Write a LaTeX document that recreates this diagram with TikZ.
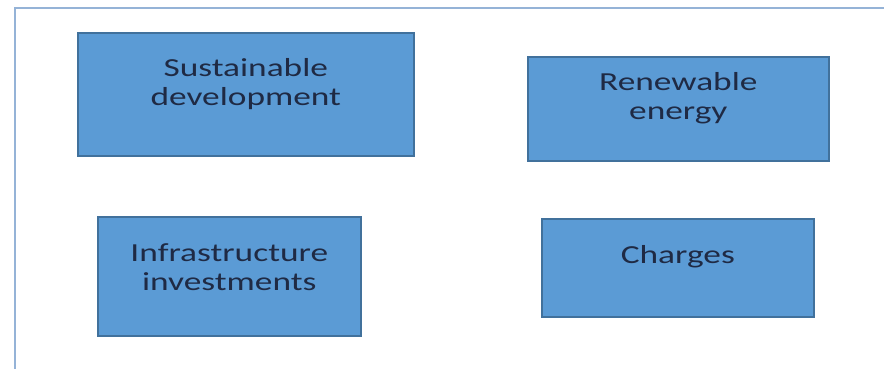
\documentclass[tikz,border=0pt]{standalone}
\usepackage{fontspec}
\usepackage{tikz}
\usetikzlibrary{positioning}
\newfontfamily\boxfont[FakeStretch=1.36]{Carlito}
\definecolor{boxfill}{HTML}{5B9BD5}
\definecolor{boxline}{HTML}{41719C}
\definecolor{boxtext}{HTML}{1F2A44}
\definecolor{framecol}{HTML}{95B3D7}
\tikzset{
  topicbox/.style={
    draw=boxline,
    fill=boxfill,
    rectangle,
    anchor=north west,
    align=center,
    inner sep=0pt,
    line width=1.6pt,
    text=boxtext,
    font=\boxfont\fontsize{26}{29.5}\selectfont,
  },
  frame/.style={draw=framecol, line width=2.4pt},
}
\begin{document}
\begin{tikzpicture}[x=1pt, y=-1pt]
  \useasboundingbox (0,0) rectangle (884,368);
  \draw[frame] (15,8) rectangle (900,380);
  % top row
  \node[topicbox, minimum width=336pt, text height=73pt, text depth=50pt] (sustain) at (77,32) {Sustainable\\development};
  \node[topicbox, minimum width=301pt, text height=63pt, text depth=41pt] (renew) at (527,56) {Renewable\\energy};
  % bottom row
  \node[topicbox, minimum width=263pt, text height=74pt, text depth=45pt] (infra) at (97,216) {Infrastructure\\investments};
  \node[topicbox, minimum width=272pt, text height=45pt, text depth=53pt] (charges) at (541,218) {Charges};
\end{tikzpicture}
\end{document}
